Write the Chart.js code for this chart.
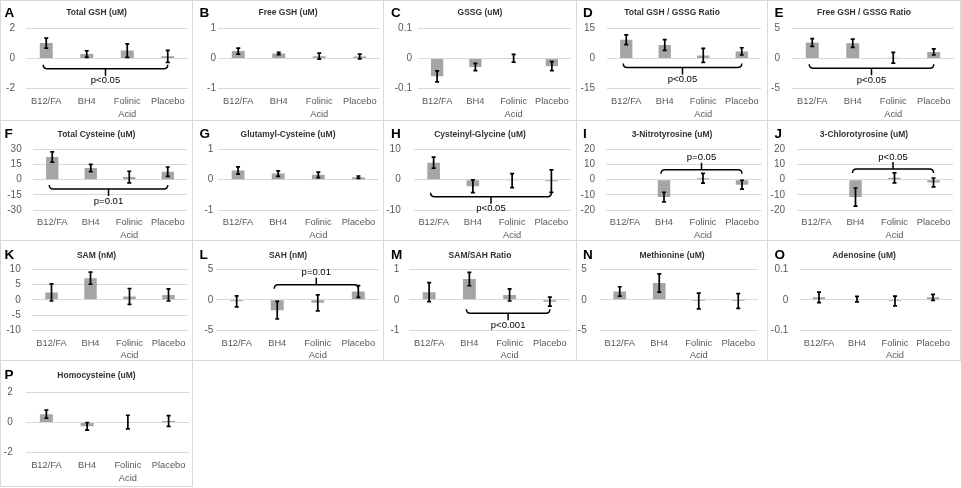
<!DOCTYPE html>
<html>
<head>
<meta charset="utf-8">
<script src="https://cdn.jsdelivr.net/npm/chart.js@4.4.0/dist/chart.umd.min.js"></script>
<style>
body { margin: 0; background: #fff; }
#wrap { position: relative; width: 961px; height: 488px; overflow: hidden; }
.box { position: absolute; box-sizing: border-box; border: 1px solid #d9d9d9; }
canvas { position: absolute; display: block; }
</style>
</head>
<body>
<div id="wrap"></div>
<script>
// 分组
const categories = ['B12/FA', 'BH4', ['Folinic', 'Acid'], 'Placebo'];

// 各面板数据 (均值 / 误差)
const totalGshMean = [1.03, 0.3, 0.53, 0.15];
const totalGshErr = [0.33, 0.22, 0.45, 0.4];
const freeGshMean = [0.25, 0.17, 0.08, 0.07];
const freeGshErr = [0.1, 0.04, 0.1, 0.08];
const gssgMean = [-0.059, -0.028, 0.001, -0.025];
const gssgErr = [0.018, 0.012, 0.013, 0.015];
const totalRatioMean = [9.4, 6.8, 1.6, 3.6];
const totalRatioErr = [2.4, 2.7, 3.5, 1.8];
const freeRatioMean = [2.67, 2.55, 0.15, 1.1];
const freeRatioErr = [0.65, 0.7, 0.9, 0.5];
const cysteineMean = [22.4, 11.5, 2.6, 7.9];
const cysteineErr = [5, 3.6, 5.7, 4.6];
const glutamylMean = [0.3, 0.2, 0.16, 0.08];
const glutamylErr = [0.12, 0.09, 0.09, 0.04];
const glycineMean = [5.6, -2.2, -0.3, -0.5];
const glycineErr = [1.8, 2.1, 2.3, 3.7];
const nitroMean = [null, -11.5, 0.9, -3.3];
const nitroErr = [null, 3.2, 3.2, 2.9];
const chloroMean = [null, -11.5, 1.2, -1.8];
const chloroErr = [null, 6, 3.3, 2.9];
const samMean = [2.4, 7.1, 1.1, 1.6];
const samErr = [2.8, 2.0, 2.6, 2.0];
const sahMean = [-0.25, -1.7, -0.5, 1.36];
const sahErr = [0.9, 1.45, 1.3, 0.95];
const samSahMean = [0.25, 0.68, 0.16, -0.06];
const samSahErr = [0.31, 0.22, 0.2, 0.15];
const methionineMean = [1.37, 2.75, -0.2, -0.2];
const methionineErr = [0.77, 1.5, 1.3, 1.2];
const adenosineMean = [0.008, 0.002, -0.004, 0.008];
const adenosineErr = [0.017, 0.009, 0.016, 0.01];
const homocysteineMean = [0.55, -0.25, 0.03, 0.1];
const homocysteineErr = [0.27, 0.25, 0.45, 0.36];

// 面板: 字母, 标题, 数据, y 轴范围 [min, max, step], 显著性括号
const panels = [
  { letter: 'A', title: 'Total GSH (uM)', mean: totalGshMean, err: totalGshErr, y: [-2, 2, 2],
    bracket: { from: 0, to: 3, at: -0.68, below: true, text: 'p<0.05' } },
  { letter: 'B', title: 'Free GSH (uM)', mean: freeGshMean, err: freeGshErr, y: [-1, 1, 1] },
  { letter: 'C', title: 'GSSG (uM)', mean: gssgMean, err: gssgErr, y: [-0.1, 0.1, 0.1] },
  { letter: 'D', title: 'Total GSH / GSSG Ratio', mean: totalRatioMean, err: totalRatioErr, y: [-15, 15, 15],
    bracket: { from: 0, to: 3, at: -4.4, below: true, text: 'p<0.05' } },
  { letter: 'E', title: 'Free GSH / GSSG Ratio', mean: freeRatioMean, err: freeRatioErr, y: [-5, 5, 5],
    bracket: { from: 0, to: 3, at: -1.6, below: true, text: 'p<0.05' } },
  { letter: 'F', title: 'Total Cysteine (uM)', mean: cysteineMean, err: cysteineErr, y: [-30, 30, 15],
    bracket: { from: 0, to: 3, at: -9.2, below: true, text: 'p=0.01' } },
  { letter: 'G', title: 'Glutamyl-Cysteine (uM)', mean: glutamylMean, err: glutamylErr, y: [-1, 1, 1] },
  { letter: 'H', title: 'Cysteinyl-Glycine (uM)', mean: glycineMean, err: glycineErr, y: [-10, 10, 10],
    bracket: { from: 0, to: 3, at: -5.6, below: true, text: 'p<0.05' } },
  { letter: 'I', title: '3-Nitrotyrosine (uM)', mean: nitroMean, err: nitroErr, y: [-20, 20, 10],
    bracket: { from: 1, to: 3, at: 6.5, below: false, text: 'p=0.05' } },
  { letter: 'J', title: '3-Chlorotyrosine (uM)', mean: chloroMean, err: chloroErr, y: [-20, 20, 10],
    bracket: { from: 1, to: 3, at: 7, below: false, text: 'p<0.05' } },
  { letter: 'K', title: 'SAM (nM)', mean: samMean, err: samErr, y: [-10, 10, 5] },
  { letter: 'L', title: 'SAH (nM)', mean: sahMean, err: sahErr, y: [-5, 5, 5],
    bracket: { from: 1, to: 3, at: 2.45, below: false, text: 'p=0.01' } },
  { letter: 'M', title: 'SAM/SAH Ratio', mean: samSahMean, err: samSahErr, y: [-1, 1, 1],
    bracket: { from: 1, to: 3, at: -0.44, below: true, text: 'p<0.001' } },
  { letter: 'N', title: 'Methionine (uM)', mean: methionineMean, err: methionineErr, y: [-5, 5, 5] },
  { letter: 'O', title: 'Adenosine (uM)', mean: adenosineMean, err: adenosineErr, y: [-0.1, 0.1, 0.1] },
  { letter: 'P', title: 'Homocysteine (uM)', mean: homocysteineMean, err: homocysteineErr, y: [-2, 2, 2] }
];

// 版面位置 (像素)
const colEdges = [0, 192, 383, 576, 767, 960];
const rowEdges = [0, 120, 240, 360, 486];
const rowTop = [28.5, 149.3, 269.3, 392.3];
const rowBottom = [88.7, 210, 330.3, 452.7];
const rowTitleY = [12.3, 15, 15.7, 15.7];
const rowLetterY = [17.3, 18.3, 18.5, 19];
const colLetterX = [4.5, 7.5, 8, 7, 7.5];
// 每个面板的绘图区左右边界和 y 刻度标签右边界
const plotLeft = [26, 218, 418, 607, 792, 33, 218, 414, 605.5, 797, 32, 216.4, 409, 600, 800, 26];
const plotRight = [188, 380, 571, 761, 954, 187, 378.5, 571, 761.5, 953, 188, 378.6, 570, 758, 952, 189];
const labelRight = [15, 216, 412, 595, 780, 21.7, 213.3, 400.7, 595, 785, 20.7, 213.3, 399.3, 586.7, 788.3, 12.7];

const FONT = "'Liberation Sans', Arial, sans-serif";

function makeDecor(p, row, col) {
  return {
    id: 'decor',
    afterDatasetsDraw(chart) {
      const ctx = chart.ctx;
      const xs = chart.scales.x, ys = chart.scales.y;
      ctx.save();
      ctx.strokeStyle = '#000';
      ctx.lineWidth = 1.7;
      // 误差线
      p.mean.forEach((m, i) => {
        if (m === null) return;
        const px = xs.getPixelForValue(i);
        const top = ys.getPixelForValue(m + p.err[i]);
        const bot = ys.getPixelForValue(m - p.err[i]);
        ctx.beginPath();
        ctx.moveTo(px, top); ctx.lineTo(px, bot);
        ctx.moveTo(px - 2, top); ctx.lineTo(px + 2, top);
        ctx.moveTo(px - 2, bot); ctx.lineTo(px + 2, bot);
        ctx.stroke();
      });
      // 显著性括号
      const b = p.bracket;
      if (b) {
        ctx.lineWidth = 1.5;
        const e = b.below ? 1 : -1;
        const x1 = xs.getPixelForValue(b.from) - 3;
        const x2 = xs.getPixelForValue(b.to);
        const xm = (x1 + x2) / 2;
        const y = ys.getPixelForValue(b.at);
        ctx.beginPath();
        ctx.moveTo(x1, y - e * 4);
        ctx.quadraticCurveTo(x1, y, x1 + 4, y);
        ctx.lineTo(x2 - 4, y);
        ctx.quadraticCurveTo(x2, y, x2, y - e * 4);
        ctx.moveTo(xm, y);
        ctx.lineTo(xm, y + e * 7);
        ctx.stroke();
        ctx.fillStyle = '#000';
        ctx.font = '9.5px ' + FONT;
        ctx.textAlign = 'center';
        ctx.textBaseline = 'middle';
        ctx.fillText(b.text, xm, y + e * 12);
      }
      ctx.restore();
    },
    afterDraw(chart) {
      const ctx = chart.ctx;
      ctx.save();
      ctx.fillStyle = '#000';
      ctx.font = 'bold 13.5px ' + FONT;
      ctx.textAlign = 'left';
      ctx.textBaseline = 'alphabetic';
      ctx.fillText(p.letter, colLetterX[col], rowLetterY[row]);
      ctx.fillStyle = '#333';
      ctx.font = 'bold 8.5px ' + FONT;
      ctx.textAlign = 'center';
      ctx.textBaseline = 'middle';
      ctx.fillText(p.title, chart.width / 2, rowTitleY[row]);
      ctx.restore();
    }
  };
}

const wrap = document.getElementById('wrap');

panels.forEach((p, k) => {
  const row = Math.floor(k / 5), col = k % 5;
  const x0 = colEdges[col], y0 = rowEdges[row];
  const w = colEdges[col + 1] - x0 + 1;
  const h = rowEdges[row + 1] - y0 + 1;

  const box = document.createElement('div');
  box.className = 'box';
  box.style.left = x0 + 'px';
  box.style.top = y0 + 'px';
  box.style.width = w + 'px';
  box.style.height = h + 'px';
  wrap.appendChild(box);

  const canvas = document.createElement('canvas');
  canvas.width = w;
  canvas.height = h;
  canvas.style.left = x0 + 'px';
  canvas.style.top = y0 + 'px';
  canvas.style.width = w + 'px';
  canvas.style.height = h + 'px';
  wrap.appendChild(canvas);

  const left = plotLeft[k] - x0;
  const right = plotRight[k] - x0;
  const top = rowTop[row] - y0;
  const bottom = rowBottom[row] - y0;

  new Chart(canvas, {
    type: 'bar',
    data: {
      labels: categories,
      datasets: [{
        data: p.mean,
        backgroundColor: '#a5a5a5',
        borderWidth: 0,
        categoryPercentage: 0.4,
        barPercentage: 0.8
      }]
    },
    options: {
      responsive: false,
      animation: false,
      layout: { padding: { top: top, right: w - right, left: 0, bottom: 0 } },
      plugins: {
        legend: { display: false },
        tooltip: { enabled: false }
      },
      scales: {
        x: {
          grid: { display: false, drawTicks: false },
          border: { display: false },
          ticks: {
            color: '#595959',
            font: { family: FONT, size: 9.3, lineHeight: 1.35 },
            padding: 6.5,
            maxRotation: 0,
            autoSkip: false
          },
          afterFit(s) { s.height = h - bottom; s.paddingLeft = 0; s.paddingRight = 0; }
        },
        y: {
          min: p.y[0],
          max: p.y[1],
          grid: { color: '#d9d9d9', drawTicks: false, lineWidth: 1 },
          border: { display: false },
          ticks: {
            stepSize: p.y[2],
            color: '#595959',
            font: { family: FONT, size: 10 },
            padding: left - (labelRight[k] - x0)
          },
          afterFit(s) { s.width = left; s.paddingTop = 0; s.paddingBottom = 0; }
        }
      }
    },
    plugins: [makeDecor(p, row, col)]
  });
});
</script>
</body>
</html>
